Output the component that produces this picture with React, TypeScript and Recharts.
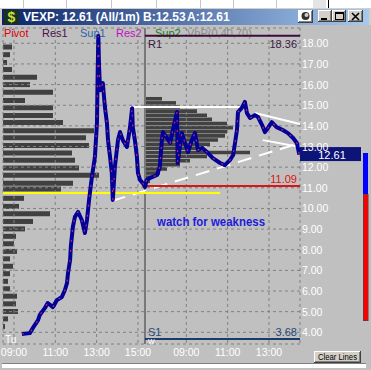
import React from 'react';
import { LineChart, Line, XAxis, YAxis, CartesianGrid, ReferenceLine, BarChart, Bar } from 'recharts';

const FONT = '"Liberation Sans", Arial, sans-serif';
const W = 371;
const H = 370;

// hour axis: 0 = day-1 09:00 ; day-2 session (07:00) starts at DAY2_START
const DAY2_START = 6.34;
const X_MIN = -0.53;
const X_MAX = 13.84;
const Y_MIN = 3.433;
const Y_MAX = 18.741;

const LAST_PRICE = 12.61;
const BID = 12.53;
const ASK = 12.61;

const day1Times = ['09:23','09:46','09:55','10:10','10:15','10:30','10:38','10:53','11:05','11:19','11:28','11:34','11:37','11:43','11:45','11:51','11:57','12:06','12:17','12:26','12:32','12:38','12:44','12:48','12:55','13:01','13:03','13:05','13:07','13:10','13:18','13:24','13:30','13:33','13:39','13:44','13:47','13:53','14:02','14:08','14:16','14:28','14:37','14:43','14:45','14:51','14:57','15:00','15:06','15:14'];
const day1Prices = [3.92,3.96,4.21,4.59,4.84,5.18,5.42,5.22,5.56,5.71,6.05,6.39,6.87,7.50,8.13,9.10,9.59,9.83,9.44,8.81,9.44,10.41,11.23,11.72,12.49,14.14,16.56,18.35,16.90,15.73,16.07,14.91,14.13,13.31,12.49,11.72,10.41,12.01,13.31,13.70,13.31,12.98,13.94,14.85,13.94,13.31,12.49,11.72,11.38,11.23];

const day2Times = ['07:00','07:05','07:14','07:35','07:43','07:49','07:52','08:04','08:13','08:21','08:33','08:35','08:41','08:47','08:56','09:05','09:16','09:25','09:34','09:46','10:00','10:17','10:38','10:52','11:07','11:16','11:27','11:30','11:41','11:50','11:56','12:05','12:19','12:28','12:40','12:48','12:57','13:08','13:22','13:40','13:55','14:10','14:21','14:28'];
const day2Prices = [11.04,11.38,11.47,11.62,12.01,13.31,13.70,13.41,13.17,13.80,14.67,12.20,12.98,13.65,13.17,12.73,13.31,13.65,12.83,12.93,12.73,12.44,12.20,12.10,12.35,12.59,13.80,14.67,14.87,15.16,14.62,14.38,14.52,14.43,14.04,13.70,13.90,14.18,13.94,13.80,13.65,13.41,13.17,12.61];

// volume by price (thousand shares)
const vbp1Prices = [17.80,17.43,17.05,16.71,16.34,15.98,15.61,15.21,14.86,14.48,14.15,13.75,13.40,13.03,12.67,12.31,11.94,11.59,11.20,10.92,10.47,10.08,9.72,9.35,8.99,8.63,8.27,7.90,7.54,7.18,6.82,6.45,6.09,5.73,5.36,4.99,4.63,4.26];
const vbp1Volumes = [90,70,40,90,340,270,500,220,500,500,600,910,830,860,690,720,760,960,700,580,210,160,470,300,220,130,110,140,70,100,70,50,70,140,130,150,50,20];
const vbp2Prices = [15.3,15.1,14.9,14.7,14.5,14.3,14.1,13.9,13.7,13.5,13.3,13.1,12.9,12.7,12.5,12.3,12.1,11.9,11.7,11.5,11.3];
const vbp2Volumes = [160,300,340,510,610,660,810,870,810,790,720,640,560,1040,610,440,340,210,140,70,40];

const priceTicks = [4,5,6,7,8,9,10,11,12,13,14,15,16,17,18];
const xTickDays = [1,1,1,1,2,2,2];
const xTickTimes = ['09:00','11:00','13:00','15:00','09:00','11:00','13:00'];

const levelNames = ['R1', '', 'S1'];
const levelValues = [18.36, 11.09, 3.68];
const levelColors = ['#3c0c3c', '#d41818', '#1a3c6c'];
const levelTextColors = ['#3a1a48', '#e01010', '#284878'];
const levelLabelBelow = [true, false, false];

const userLines = [
  { d1: 1, t1: '14:37', p1: 14.91, d2: 2, t2: '11:41', p2: 14.91, color: '#ffffff', dash: undefined },
  { d1: 2, t1: '12:19', p1: 14.62, d2: 2, t2: '14:30', p2: 14.09, color: '#ffffff', dash: undefined },
  { d1: 2, t1: '12:42', p1: 13.31, d2: 2, t2: '14:30', p2: 12.98, color: '#ffffff', dash: undefined },
  { d1: 1, t1: '13:44', p1: 10.36, d2: 2, t2: '14:30', p2: 13.17, color: '#ffffff', dash: '14 8' },
  { d1: 1, t1: '08:28', p1: 10.75, d2: 2, t2: '10:38', p2: 10.75, color: '#ffff00', dash: undefined },
];

function toSlot(day: number, hhmm: string): number {
  const [h, m] = hhmm.split(':').map(Number);
  return day === 1 ? h - 9 + m / 60 : DAY2_START + (h - 7) + m / 60;
}

const priceData = [
  ...day1Times.map((t, i) => ({ t: toSlot(1, t), p: day1Prices[i] })),
  ...day2Times.map((t, i) => ({ t: toSlot(2, t), p: day2Prices[i] })),
];
const vbp1Data = vbp1Prices.map((p, i) => ({ p, v: vbp1Volumes[i] }));
const vbp2Data = vbp2Prices.map((p, i) => ({ p, v: vbp2Volumes[i] }));
const xTickValues = xTickDays.map((d, i) => toSlot(d, xTickTimes[i]));

const XTick = (props: any) => {
  const { x, index } = props;
  return (
    <text x={x} y={356} textAnchor="middle" fill="#ffffff" fontSize={10.5} fontFamily={FONT}>
      {xTickTimes[index]}
    </text>
  );
};

const YTick = (props: any) => {
  const { y, payload } = props;
  return (
    <text x={302} y={y + 4} fill="#ffffff" fontSize={10.5} fontFamily={FONT}>
      {Number(payload.value).toFixed(2)}
    </text>
  );
};

const makeLevelLabel = (i: number) => (props: any) => {
  const vb = props.viewBox || {};
  const ly = levelLabelBelow[i] ? vb.y + 12 : vb.y - 3;
  return (
    <g fontFamily={FONT} fontSize={11}>
      {levelNames[i] ? (
        <text x={vb.x + 3} y={ly} fill={levelTextColors[i]}>{levelNames[i]}</text>
      ) : null}
      <text x={vb.x + vb.width - 3} y={ly} textAnchor="end" fill={levelTextColors[i]}>
        {levelValues[i].toFixed(2)}
      </text>
    </g>
  );
};

const LastPriceLabel = (props: any) => {
  const vb = props.viewBox || {};
  const x = vb.x + vb.width;
  return (
    <g>
      <rect x={x} y={vb.y - 7.5} width={61} height={14} fill="#0c1478" />
      <text x={x + 32} y={vb.y + 4} textAnchor="middle" fill="#ffffff" fontSize={11} fontFamily={FONT}>
        {LAST_PRICE.toFixed(2)}
      </text>
    </g>
  );
};

const Btn = ({ x, y, w, h, fill = '#d4d0c8', children }: any) => (
  <g>
    <rect x={x} y={y} width={w} height={h} fill={fill} />
    <line x1={x} y1={y + 0.5} x2={x + w - 1} y2={y + 0.5} stroke="#ffffff" />
    <line x1={x + 0.5} y1={y} x2={x + 0.5} y2={y + h - 1} stroke="#ffffff" />
    <line x1={x} y1={y + h - 0.5} x2={x + w} y2={y + h - 0.5} stroke="#404040" />
    <line x1={x + w - 0.5} y1={y} x2={x + w - 0.5} y2={y + h} stroke="#404040" />
    <line x1={x + 1} y1={y + h - 1.5} x2={x + w - 1} y2={y + h - 1.5} stroke="#808080" />
    <line x1={x + w - 1.5} y1={y + 1} x2={x + w - 1.5} y2={y + h - 1} stroke="#808080" />
    {children}
  </g>
);

const legendItems = ['Pivot', 'Res1', 'Sup1', 'Res2', 'Sup2', 'VbP(0,40,70)'];
const legendColors = ['#e00000', '#4a1048', '#2a64a8', '#c010c0', '#108010', '#8c8c8c'];
const legendXs = [4, 42, 80, 116, 155, 187];

const Legend = () => (
  <svg width={W} height={H} style={{ position: 'absolute', left: 0, top: 0 }}>
    {legendItems.map((s, i) => (
      <text key={s} x={legendXs[i]} y={37} fill={legendColors[i]} fontSize={11} fontFamily={FONT}>{s}</text>
    ))}
  </svg>
);

const Chrome = () => (
  <svg width={W} height={H} style={{ position: 'absolute', left: 0, top: 0, pointerEvents: 'none' }}>
    <defs>
      <linearGradient id="tb" x1="0" x2="1" y1="0" y2="0">
        <stop offset="0" stopColor="#0a246a" />
        <stop offset="1" stopColor="#a6caf0" />
      </linearGradient>
    </defs>
    <rect x={0} y={0} width={W} height={8} fill="#ffffff" />
    {[23, 66, 111, 156, 200, 233, 276].map((x) => (
      <line key={x} x1={x + 0.5} x2={x + 0.5} y1={0} y2={8} stroke="#c8c8c8" />
    ))}
    <rect x={313} y={0} width={13} height={8} fill="#e4e4e4" />
    <line x1={328.5} x2={328.5} y1={0} y2={8} stroke="#000000" />
    <rect x={0} y={8} width={W} height={17} fill="#d4d0c8" />
    <rect x={2} y={9} width={W - 4} height={16} fill="url(#tb)" />
    <rect x={4} y={10} width={15} height={14} fill="#1a3020" />
    <text x={11.5} y={22} textAnchor="middle" fill="#c8e040" fontSize={14} fontWeight="bold" fontFamily={FONT}>$</text>
    <text x={23} y={21} fill="#ffffff" fontSize={12} fontWeight="bold" fontFamily={FONT}>VEXP: {LAST_PRICE.toFixed(2)} (All/1m)</text>
    <text x={143} y={21} fill="#ffffff" fontSize={12} fontWeight="bold" fontFamily={FONT}>B:{BID.toFixed(2)}</text>
    <text x={187} y={21} fill="#ffffff" fontSize={12} fontWeight="bold" fontFamily={FONT}>A:{ASK.toFixed(2)}</text>
    <Btn x={298} y={10} w={15} h={13} fill="#ffffff">
      <circle cx={305.5} cy={16} r={4} fill="#303030" />
      <circle cx={306.5} cy={15} r={2} fill="#d0d0d0" />
    </Btn>
    <Btn x={318} y={10} w={14} h={12}>
      <rect x={321} y={18} width={6} height={2} fill="#000" />
    </Btn>
    <Btn x={332} y={10} w={14} h={12}>
      <rect x={335.5} y={12.5} width={8} height={7} fill="none" stroke="#000" />
      <line x1={335} x2={344} y1={13.5} y2={13.5} stroke="#000" />
    </Btn>
    <Btn x={348} y={10} w={15} h={12}>
      <path d="M352 13 L359 20 M359 13 L352 20" stroke="#000" strokeWidth={1.6} />
    </Btn>

    <text x={157} y={226} fill="#1c1cdc" fontSize={12.5} fontWeight="bold" fontFamily={FONT} textLength={108} lengthAdjust="spacingAndGlyphs">watch for weakness</text>
    <text x={5} y={343} fill="#ffffff" fontSize={10} fontFamily={FONT}>Tu</text>
    <text x={148} y={344} fill="#ffffff" fontSize={7} fontFamily={FONT}>W</text>

    <rect x={363} y={153} width={5} height={41} fill="#0000ff" />
    <rect x={363.5} y={194.5} width={4.5} height={126} fill="#ff0000" stroke="#803030" />

    <Btn x={314} y={351} w={47} h={12}>
      <text x={337.5} y={360} textAnchor="middle" fontSize={8.5} fill="#000" fontFamily={FONT} textLength={39} lengthAdjust="spacingAndGlyphs">Clear Lines</text>
    </Btn>
    <line x1={2} x2={366} y1={363.5} y2={363.5} stroke="#808080" />
    <rect x={2} y={364} width={364} height={4} fill="#ffffff" />
  </svg>
);

export default function App() {
  const layer: React.CSSProperties = { position: 'absolute', left: 0, top: 0 };
  return (
    <div style={{ position: 'absolute', left: 0, top: 0, width: W, height: H, background: '#c0c0c0', overflow: 'hidden', fontFamily: FONT }}>
      <Legend />
      <div style={layer}>
        <BarChart width={W} height={H} layout="vertical" data={vbp1Data} margin={{ top: 28, right: 71, bottom: 26, left: 3 }}>
          <XAxis type="number" dataKey="v" domain={[0, 2970]} allowDataOverflow hide height={0} />
          <YAxis type="number" dataKey="p" domain={[Y_MIN, Y_MAX]} allowDataOverflow reversed hide width={0} />
          <Bar dataKey="v" fill="#404040" barSize={5} isAnimationActive={false} />
        </BarChart>
      </div>
      <div style={layer}>
        <BarChart width={W} height={H} layout="vertical" data={vbp2Data} margin={{ top: 28, right: 71, bottom: 26, left: 146 }}>
          <XAxis type="number" dataKey="v" domain={[0, 1540]} allowDataOverflow hide height={0} />
          <YAxis type="number" dataKey="p" domain={[Y_MIN, Y_MAX]} allowDataOverflow reversed hide width={0} />
          <Bar dataKey="v" fill="#424242" barSize={3.6} isAnimationActive={false} />
        </BarChart>
      </div>
      <div style={layer}>
        <LineChart width={W} height={H} data={priceData} margin={{ top: 28, right: 0, bottom: 0, left: 3 }}>
          <CartesianGrid stroke="#808080" strokeDasharray="3 3" fill="none" />
          <XAxis type="number" dataKey="t" domain={[X_MIN, X_MAX]} allowDataOverflow ticks={xTickValues} interval={0}
            tick={<XTick />} tickLine={false} axisLine={false} height={26} />
          <YAxis orientation="right" type="number" domain={[Y_MIN, Y_MAX]} allowDataOverflow ticks={priceTicks} interval={0}
            tick={<YTick />} tickLine={false} axisLine={false} width={71} />
          <ReferenceLine x={DAY2_START} stroke="#787878" strokeWidth={2} />
          {userLines.map((u, i) => (
            <ReferenceLine key={'u' + i} ifOverflow="visible"
              segment={[{ x: toSlot(u.d1, u.t1), y: u.p1 }, { x: toSlot(u.d2, u.t2), y: u.p2 }]}
              stroke={u.color} strokeWidth={2} strokeDasharray={u.dash} />
          ))}
          {levelValues.map((v, i) => (
            <ReferenceLine key={'l' + i} ifOverflow="visible"
              segment={[{ x: DAY2_START, y: v }, { x: X_MAX, y: v }]}
              stroke={levelColors[i]} strokeWidth={2} label={makeLevelLabel(i)} />
          ))}
          <Line type="linear" dataKey="p" stroke="#00009a" strokeWidth={4} dot={false} isAnimationActive={false} strokeLinejoin="round" />
          <Line type="linear" dataKey="p" stroke="#d02050" strokeWidth={1.2} strokeDasharray="2 8" dot={false} isAnimationActive={false} />
          <ReferenceLine y={LAST_PRICE} stroke="none" ifOverflow="visible" label={<LastPriceLabel />} />
        </LineChart>
      </div>
      <Chrome />
    </div>
  );
}
